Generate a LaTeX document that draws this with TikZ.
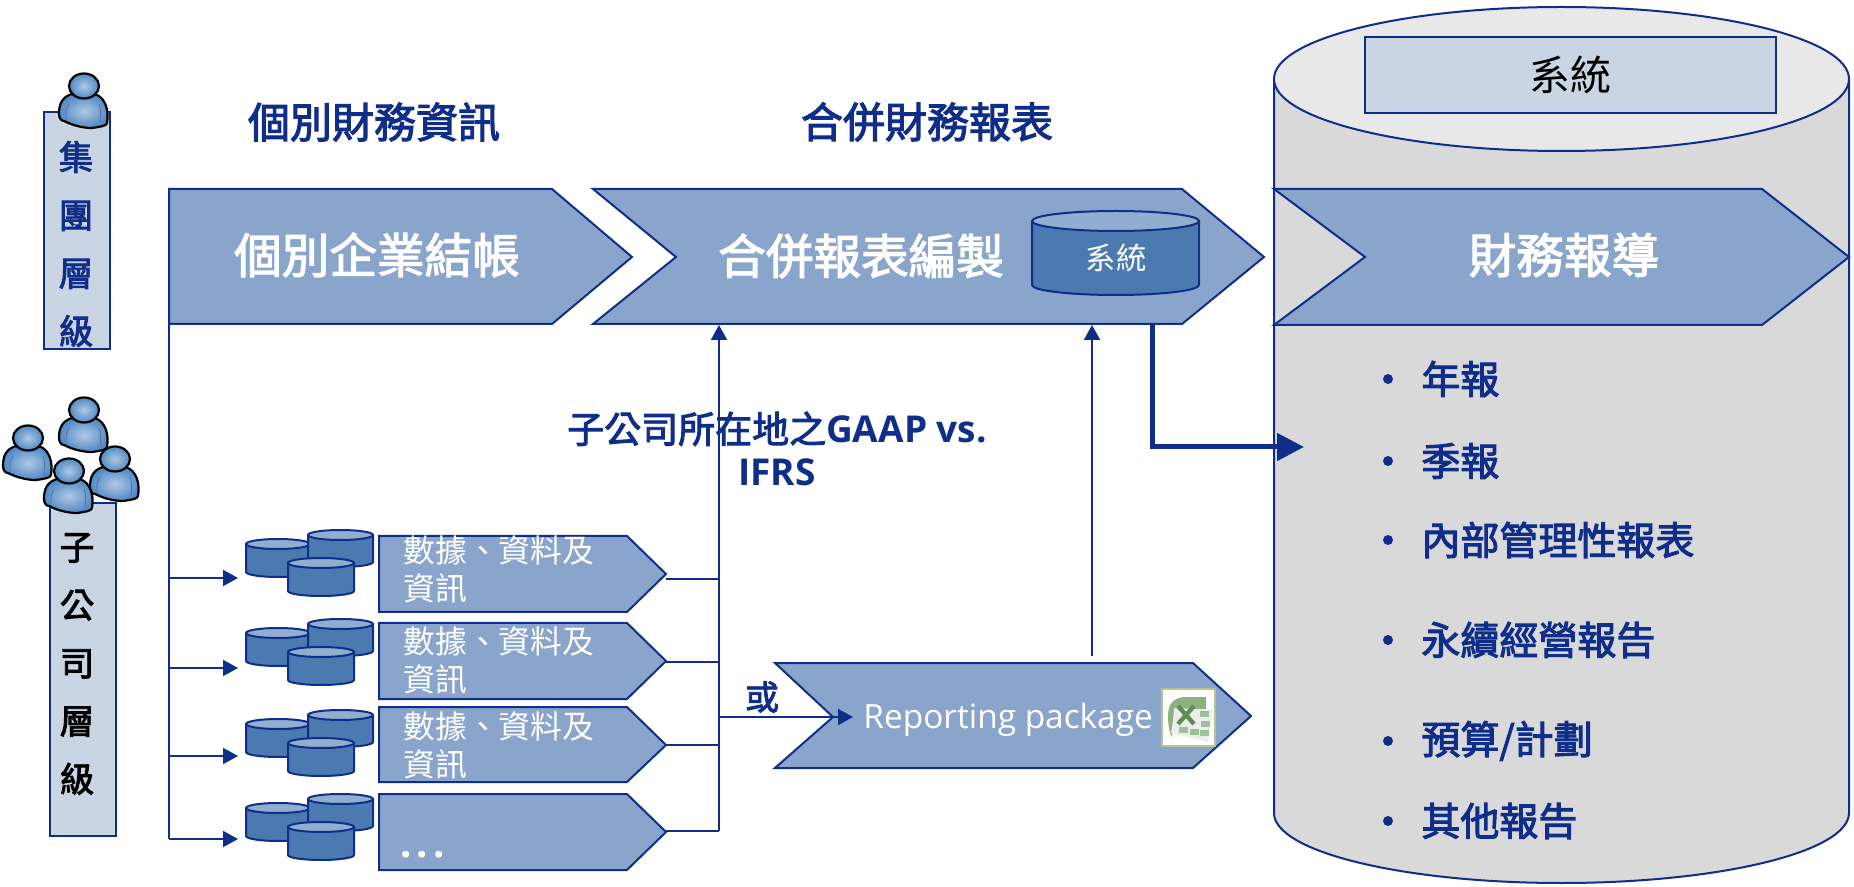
\documentclass[tikz,border=0pt]{standalone}
\usepackage{fontspec}
\setmainfont{Open Sans}
\newfontfamily\cjk[BoldFont=*,BoldFeatures={FakeBold=2.6}]{Noto Sans CJK TC}
\usetikzlibrary{calc,arrows.meta}

\definecolor{navy}{HTML}{0F2E8A}
\definecolor{boxblue}{HTML}{8AA5CB}
\definecolor{dbbody}{HTML}{4A7AB0}
\definecolor{dbtop}{HTML}{91AECF}
\definecolor{barfill}{HTML}{CAD5E3}
\definecolor{skin}{HTML}{B0C8E4}
\definecolor{skinout}{HTML}{4F8AC4}
\definecolor{xlframe}{HTML}{B4C48C}
\definecolor{xlfold}{HTML}{8DB07F}
\definecolor{xlmark}{HTML}{5F8F4E}
\definecolor{xlcell}{HTML}{9CC09A}

\tikzset{
  chev/.style={draw=navy,fill=boxblue,line width=1pt,line join=miter},
  bar/.style={draw=navy,fill=barfill,line width=1pt},
  dbshape/.style={draw=navy,fill=dbbody,line width=1pt},
  link/.style={draw=navy,line width=1pt},
  tip/.style={-{Triangle[length=7.5pt,width=8pt]}},
  white16/.style={text=white,align=left,anchor=west,inner sep=0pt,font=\cjk\fontsize{15.9}{19}\selectfont},
  white24/.style={text=white,inner sep=0pt,font=\cjk\bfseries\fontsize{23.8}{28}\selectfont},
  navy21/.style={text=navy,inner sep=0pt,font=\cjk\bfseries\fontsize{21}{26}\selectfont},
  item/.style={text=navy,anchor=west,inner sep=0pt,font=\cjk\bfseries\fontsize{19.5}{24}\selectfont},
  column/.style={align=center,inner sep=0pt,font=\cjk\bfseries\fontsize{17.2}{29}\selectfont}
}

% cylinder: left, right, top centre y, bottom centre y, y radius
\newcommand{\dbcyl}[6][dbshape]{
  \draw[#1] (#2,#4) -- (#2,#5) arc[start angle=180,end angle=0,x radius={(#3-#2)/2},y radius=#6] -- (#3,#4);
  \draw[#1,fill=dbtop] ({(#2+#3)/2},#4) ellipse [x radius={(#3-#2)/2},y radius=#6];
}
% three small cylinders, dy = shift of the group
\newcommand{\dbgroup}[1]{
  \dbcyl{246}{310}{544+#1}{572+#1}{5}
  \dbcyl{308}{373}{535+#1}{562+#1}{5}
  \dbcyl{288}{354}{563+#1}{591+#1}{5}
}
% person: centre of the head
\newcommand{\person}[2]{
  \begin{scope}[shift={(#1,#2)}]
    \draw[black,line width=1.1pt,inner color=skin,outer color=skinout]
      (-12,8) .. controls (-22,11) and (-25,18) .. (-25,28) .. controls (-25,33) and (-22,35) .. (-20,35)
      .. controls (-10,40) and (0,42) .. (8,42) .. controls (15,41) and (23,40) .. (23,37)
      .. controls (25,25) and (22,12) .. (11,8) -- cycle;
    \draw[navy!70,line width=0.4pt] (-15,18) .. controls (-18,24) .. (-18,34);
    \draw[navy!70,line width=0.4pt] (15,18) .. controls (17,24) .. (16,37);
    \draw[black,line width=1.1pt,inner color=skin,outer color=skinout] (0,0) ellipse [x radius=15,y radius=12.5];
  \end{scope}
}

\begin{document}
\begin{tikzpicture}[x=0.5pt,y=-0.5pt]
  \useasboundingbox (0,0) rectangle (1854,887);

  % system on the right
  \draw[link,fill=black!15] (1274,79) -- (1274,813) arc[start angle=180,end angle=0,x radius=287.5,y radius=70] -- (1849,79);
  \draw[link,fill=black!9] (1561.5,79) ellipse [x radius=287.5,y radius=72];
  \draw[bar] (1365,37) rectangle (1776,113);
  \node[inner sep=0pt,font=\cjk\fontsize{20.5}{24}\selectfont] (sysmain) at (1570,75) {系統};

  % headings
  \node[navy21] (hdsingle) at (374,122) {個別財務資訊};
  \node[navy21] (hdgroup) at (927,122) {合併財務報表};

  % level columns
  \draw[bar] (44,112) rectangle (110,349);
  \node[column,text=navy] (lvgroup) at (76,244) {集\\團\\層\\級};
  \draw[bar] (50,503) rectangle (116,836);
  \node[column,text=black] (lvsub) at (77,664) {子\\公\\司\\層\\級};
  \person{84}{86}
  \person{84}{410}
  \person{28}{438}
  \person{115}{459}
  \person{69}{471}

  % top row
  \draw[chev] (169,189) -- (552,189) -- (632,257) -- (552,324) -- (169,324) -- cycle;
  \node[white24] (single) at (377,255) {個別企業結帳};
  \draw[chev] (593,189) -- (1182,189) -- (1264,257) -- (1182,324) -- (593,324) -- (676,257) -- cycle;
  \node[white24] (consol) at (861,256) {合併報表編製};
  \dbcyl{1032}{1199}{221}{285}{10}
  \node[text=white,inner sep=0pt,font=\cjk\fontsize{15.2}{18}\selectfont] (sysconsol) at (1116,258) {系統};
  \draw[chev] (1274,189) -- (1762,189) -- (1849,257) -- (1762,325) -- (1274,325) -- (1365,257) -- cycle;
  \node[white24] (report) at (1564,255) {財務報導};

  % report list
  \foreach \i/\y/\t in {1/379/{年報},2/461/{季報},3/540/{內部管理性報表},4/640/{永續經營報告},5/741/{預算/計劃},6/821/{其他報告}}{
    \node[circle,fill=navy,inner sep=0pt,minimum size=5pt] (dot\i) at (1388,\y) {};
    \node[item] (rep\i) at (1421,\y) {\t};
  }

  % small blocks
  \foreach \i/\ya/\yb/\ym/\yo/\dy in {1/536/612/574/579/0,2/623/699/661/662/89,3/707/782/745/745/180,4/794/870/832/831/264}{
    \dbgroup{\dy}
    \draw[chev] (379,\ya) -- (627,\ya) -- (666,\ym) -- (627,\yb) -- (379,\yb) -- cycle;
    \coordinate (out\i) at (666,\yo);
    \coordinate (bus\i) at (719,\yo);
  }
  \node[white16] (data1) at (403,569) {數據、資料及\\資訊};
  \node[white16] (data2) at (403,660) {數據、資料及\\資訊};
  \node[white16] (data3) at (403,745) {數據、資料及\\資訊};
  \node[text=white,anchor=base west,inner sep=0pt,font=\bfseries\fontsize{20}{24}\selectfont] (data4) at (400,857) {.\kern2.45pt.\kern2.45pt.};

  % left trunk
  \coordinate (trunktop) at (169,324);
  \coordinate (trunkend) at (169,839);
  \draw[link] (trunktop) -- (trunkend);
  \foreach \i/\y in {1/578,2/668,3/756,4/839}{
    \coordinate (fork\i) at (169,\y);
    \coordinate (dbin\i) at (238,\y);
    \draw[link,tip] (fork\i) -- (dbin\i);
  }

  % middle trunk
  \coordinate (busin) at (719,325);
  \draw[link,tip] (bus4) -- (busin);
  \foreach \i in {1,2,3,4}
    \draw[link] (out\i) -- (bus\i);

  % reporting package
  \draw[chev] (775,663) -- (1193,663) -- (1251,716) -- (1193,768) -- (775,768) -- (833,717) -- cycle;
  \node[text=white,anchor=west,inner sep=0pt,font=\fontsize{16.7}{20}\selectfont] (pack) at (863,720) {Reporting package};
  \coordinate (packin) at (853,717);
  \coordinate (packstart) at (719,717);
  \draw[link,tip] (packstart) -- (packin);
  \node[navy21,font=\cjk\bfseries\fontsize{17}{20}\selectfont] (orlabel) at (762,697) {或};

  \begin{scope}[shift={(1162,689)}]
    \draw[draw=xlframe,fill=white,line width=1pt] (0,0) rectangle (53,57);
    \fill[xlfold] (6,25) .. controls (7,12) and (14,9) .. (22,8) -- (44,8) -- (44,20) -- (12,20) -- (10,48) .. controls (7,44) and (6,35) .. (6,25) -- cycle;
    \fill[black!7] (13,19) -- (51,21) -- (46,53) -- (9,44) -- cycle;
    \draw[xlmark,line width=2.2pt] (16,17) -- (32,35);
    \draw[xlmark,line width=2.2pt] (32,17) -- (16,35);
    \foreach \x/\y in {38/22,39/32,38/41,17/38,28/40}
      \fill[xlcell] (\x,\y) rectangle +(9,6);
  \end{scope}

  % links to the upper row
  \coordinate (packup) at (1092,656);
  \coordinate (consolin) at (1092,325);
  \draw[link,tip] (packup) -- (consolin);
  \coordinate (thickstart) at (1152,325);
  \coordinate (thickelbow) at (1152,447);
  \coordinate (thickend) at (1304,447);
  \draw[draw=navy,line width=2.5pt,-{Triangle[length=13.5pt,width=13.5pt]}] (thickstart) -- (thickelbow) -- (thickend);

  \node[navy21,align=center,font=\cjk\bfseries\fontsize{18.5}{21.5}\selectfont] (gaap) at (777,449) {子公司所在地之{\fontspec{Open Sans}GAAP vs.}\\{\fontspec{Open Sans}IFRS}};
\end{tikzpicture}
\end{document}
